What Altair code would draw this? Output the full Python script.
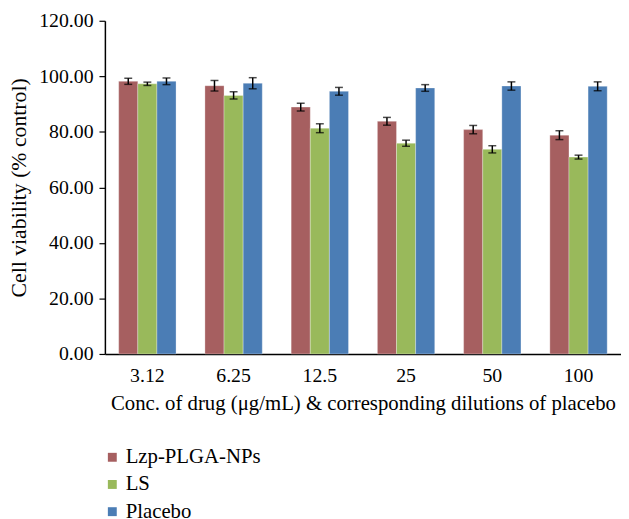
import altair as alt
import pandas as pd

categories = ["3.12", "6.25", "12.5", "25", "50", "100"]
series = ["Lzp-PLGA-NPs", "LS", "Placebo"]
lzp = [98.2, 96.6, 88.9, 83.8, 80.8, 78.8]
lzp_err = [1.1, 1.9, 1.4, 1.4, 1.5, 1.6]
ls = [97.3, 93.1, 81.3, 75.9, 73.7, 70.9]
ls_err = [0.6, 1.3, 1.6, 1.1, 1.3, 0.7]
placebo = [98.2, 97.5, 94.6, 95.8, 96.5, 96.4]
placebo_err = [1.2, 2.0, 1.4, 1.2, 1.5, 1.6]
colors = ["#A65F60", "#99B95B", "#4B7DB5"]

rows = []
for s, vals, errs in [(series[0], lzp, lzp_err), (series[1], ls, ls_err), (series[2], placebo, placebo_err)]:
    for c, v, e in zip(categories, vals, errs):
        rows.append({"conc": c, "series": s, "value": v, "lo": v - e, "hi": v + e})
df = pd.DataFrame(rows)

FONT = "Liberation Serif"

x = alt.X("conc:N", sort=categories,
          scale=alt.Scale(paddingInner=0.335, paddingOuter=0.16),
          axis=alt.Axis(title="Conc. of drug (\u03bcg/mL) & corresponding dilutions of placebo",
                        labelAngle=0, ticks=False, labelPadding=12, titlePadding=7,
                        labelFontSize=20, titleFontSize=21))
xoff = alt.XOffset("series:N", sort=series, scale=alt.Scale(domain=series, paddingInner=0, paddingOuter=0))

bars = alt.Chart(df).mark_bar(stroke="#ffffff", strokeOpacity=0.5, strokeWidth=0.6).encode(
    x=x,
    xOffset=xoff,
    y=alt.Y("value:Q", scale=alt.Scale(domain=[0, 120], nice=False),
            axis=alt.Axis(title="Cell viability (% control)", values=[0, 20, 40, 60, 80, 100, 120],
                          format=".2f", tickSize=6, labelPadding=6, labelFontSize=20,
                          titleFontSize=22, titleX=-75)),
    color=alt.Color("series:N", sort=series,
                    scale=alt.Scale(domain=series, range=colors),
                    legend=alt.Legend(title=None, orient="none", legendX=-3, legendY=431,
                                      symbolType="square", symbolSize=81, symbolStrokeWidth=0,
                                      labelFontSize=21, labelFont=FONT, labelColor="#000000",
                                      rowPadding=5.5, labelOffset=3, padding=0)),
)

rule = alt.Chart(df).mark_rule(color="#000000", strokeWidth=1.5).encode(
    x=x, xOffset=xoff, y="lo:Q", y2="hi:Q")
cap_lo = alt.Chart(df).mark_tick(color="#000000", size=8, thickness=1.5).encode(
    x=x, xOffset=xoff, y="lo:Q")
cap_hi = alt.Chart(df).mark_tick(color="#000000", size=8, thickness=1.5).encode(
    x=x, xOffset=xoff, y="hi:Q")

chart = alt.layer(bars, rule, cap_lo, cap_hi).properties(
    width=522, height=337,
    autosize=alt.AutoSizeParams(type="none"),
    padding={"left": 98, "top": 10, "right": 0, "bottom": 164},
).configure_view(stroke=None).configure_axis(
    labelFont=FONT, titleFont=FONT,
    labelColor="#000000", titleColor="#000000", titleFontWeight="normal",
    domainColor="#000000", domainWidth=1.5, tickColor="#000000", tickWidth=1.2, grid=False,
)

chart.save("out.html", embed_options={"renderer": "svg", "actions": False})
